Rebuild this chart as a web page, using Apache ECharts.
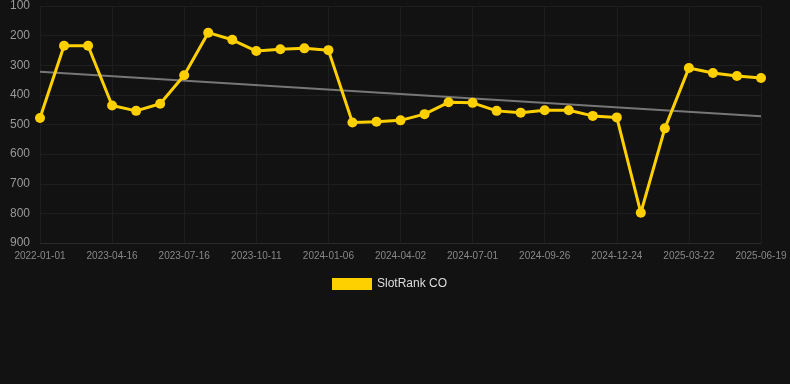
<!DOCTYPE html>
<html>
<head>
<meta charset="utf-8">
<script src="https://cdn.jsdelivr.net/npm/echarts@6/dist/echarts.min.js"></script>
<style>
html,body{margin:0;padding:0;background:#121212;}
#c{width:790px;height:384px;}
</style>
</head>
<body>
<div id="c"></div>
<script>
var dates = ['2022-01-01','2023-02-15','2023-03-17','2023-04-16','2023-05-16','2023-06-15','2023-07-16','2023-08-14','2023-09-12','2023-10-11','2023-11-09','2023-12-08','2024-01-06','2024-02-04','2024-03-04','2024-04-02','2024-05-02','2024-06-01','2024-07-01','2024-07-30','2024-08-28','2024-09-26','2024-10-25','2024-11-24','2024-12-24','2025-01-22','2025-02-20','2025-03-22','2025-04-21','2025-05-20','2025-06-19'];
var rank = [478,234,234,436,454,430,334,190,214,252,246,243,249,493,491,486,465,425,427,454,460,452,452,471,476,798,513,309,326,336,343];
var trendStart = 322;
var trendEnd = 472;
var yTicks = [100,900,100];

var chart = echarts.init(document.getElementById('c'), null, {renderer:'canvas'});
chart.setOption({
  backgroundColor:'#121212',
  animation:false,
  grid:{left:40,right:29,top:6,bottom:141,containLabel:false},
  legend:{
    data:['SlotRank CO'],
    top:278,
    left:332,
    padding:0,
    itemWidth:40,
    itemHeight:12,
    itemGap:10,
    icon:'rect',
    textStyle:{color:'#dddddd',fontSize:12,fontFamily:'Arial, Liberation Sans, sans-serif'}
  },
  xAxis:{
    type:'category',
    data:dates,
    boundaryGap:false,
    axisLine:{show:true,lineStyle:{color:'#2b2b2b'}},
    axisTick:{show:false},
    axisLabel:{interval:2,color:'#888888',fontSize:10,margin:8,fontFamily:'Arial, Liberation Sans, sans-serif'},
    splitLine:{show:true,interval:2,lineStyle:{color:'#1e1e1e',width:1}}
  },
  yAxis:{
    type:'value',
    inverse:true,
    min:yTicks[0],
    max:yTicks[1],
    interval:yTicks[2],
    axisLine:{show:false},
    axisTick:{show:false},
    axisLabel:{color:'#999999',fontSize:12,margin:10,fontFamily:'Arial, Liberation Sans, sans-serif'},
    splitLine:{show:true,lineStyle:{color:'#1e1e1e',width:1}}
  },
  series:[
    {
      name:'SlotRank CO',
      type:'line',
      data:rank,
      color:'#ffd000',
      lineStyle:{color:'#ffd000',width:3},
      itemStyle:{color:'#ffd000'},
      symbol:'circle',
      symbolSize:10,
      z:3
    },
    {
      name:'Trend',
      type:'line',
      data:[[dates[0],trendStart],[dates[dates.length-1],trendEnd]],
      symbol:'none',
      lineStyle:{color:'#777777',width:2},
      z:2,
      silent:true
    }
  ]
});
</script>
</body>
</html>
